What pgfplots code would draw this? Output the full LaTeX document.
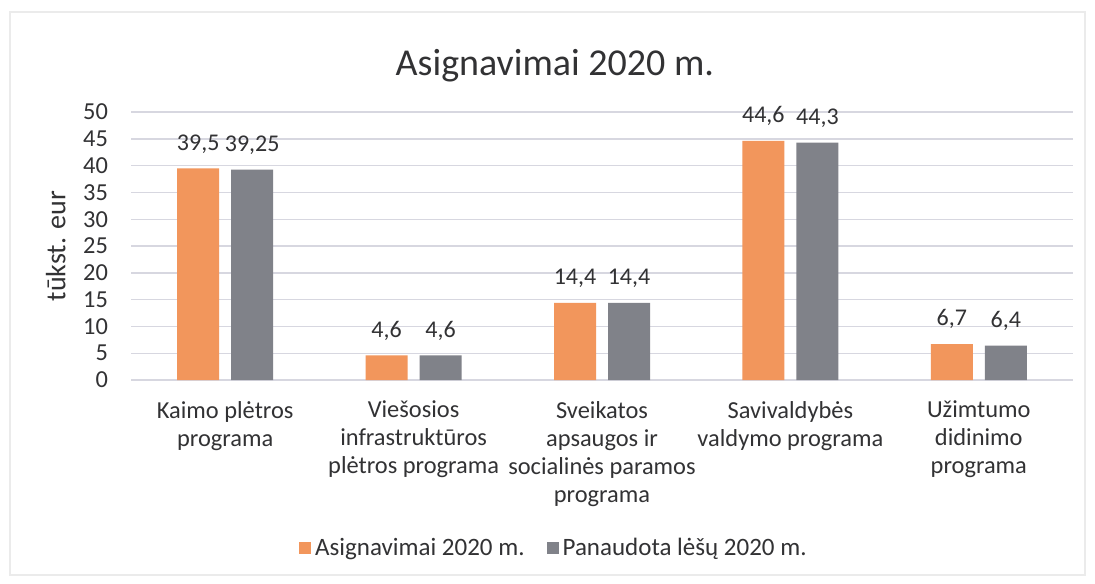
\documentclass[border=0pt]{standalone}
\usepackage{fontspec}
\setmainfont{Carlito}
\usepackage{pgfplots}
\pgfplotsset{compat=1.18}
\definecolor{orb}{RGB}{242,150,92}
\definecolor{grb}{RGB}{128,130,137}
\definecolor{txt}{RGB}{50,50,52}
\definecolor{gridc}{RGB}{215,215,224}
\begin{document}
\begin{tikzpicture}
\useasboundingbox (0,0) rectangle (547.5pt,291.5pt);
\fill[white] (0,0) rectangle (547.5pt,291.5pt);
\draw[black!8, line width=0.8pt] (5pt,4pt) rectangle (542.5pt,285.5pt);
\begin{axis}[
  at={(65.5pt,101.5pt)}, anchor=south west,
  scale only axis, width=471pt, height=134pt,
  ymin=0, ymax=50, ytick={0,5,...,50},
  xmin=-0.5, xmax=4.5, xtick={0,1,2,3,4},
  xticklabels={{Kaimo plėtros\\programa},{Viešosios\\infrastruktūros\\plėtros programa},{Sveikatos\\apsaugos ir\\socialinės paramos\\programa},{Savivaldybės\\valdymo programa},{Užimtumo\\didinimo\\programa}},
  ybar=6pt, bar width=21pt,
  axis line style={draw=none}, major tick length=0pt,
  ymajorgrids, grid style={draw=gridc, line width=0.7pt},
  /pgf/number format/assume math mode=true,
  tick label style={font=\fontsize{12.2}{14}\selectfont, text=txt},
  xticklabel style={align=center, anchor=north, yshift=-7pt},
  yticklabel style={anchor=east, xshift=-8pt},
  ylabel={tūkst. eur},
  ylabel style={font=\fontsize{14}{16}\selectfont, text=txt, at={(axis description cs:-0.062,0.5)}, anchor=south},
  title={Asignavimai 2020 m.},
  title style={font=\fontsize{19}{22}\selectfont, text=txt, at={(axis description cs:0.45,1.04)}, anchor=south},
  nodes near coords={\pgfmathprintnumber[use comma, fixed, precision=2]{\pgfplotspointmeta}},
  every node near coord/.append style={font=\fontsize{12}{14}\selectfont, text=txt, anchor=south, yshift=4pt},
  legend style={at={(axis description cs:0.45,-0.627)}, anchor=center, draw=none, fill=none,
    font=\fontsize{12.5}{14}\selectfont, text=txt, legend columns=2,
    /tikz/every even column/.append style={column sep=9pt}},
  legend image code/.code={\fill[#1] (-2pt,-3pt) rectangle (4pt,3pt);},
]
\addplot[fill=orb, draw=none] coordinates {(0,39.5) (1,4.6) (2,14.4) (3,44.6) (4,6.7)};
\addplot[fill=grb, draw=none] coordinates {(0,39.25) (1,4.6) (2,14.4) (3,44.3) (4,6.4)};
\legend{Asignavimai 2020 m., Panaudota lėšų 2020 m.}
\end{axis}
\end{tikzpicture}
\end{document}
